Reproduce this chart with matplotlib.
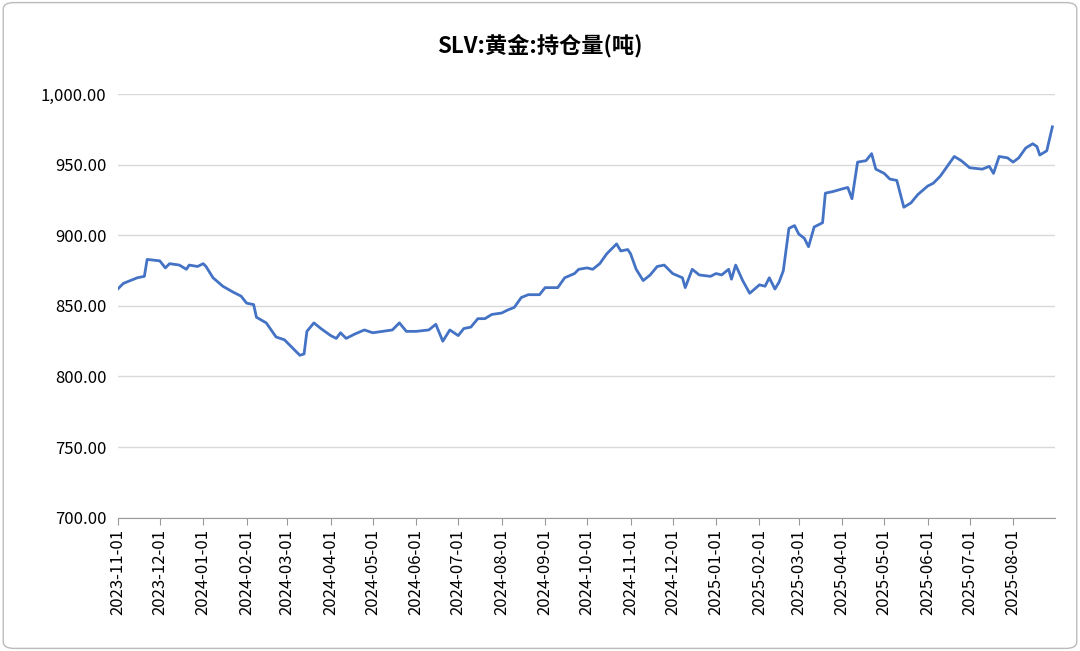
import matplotlib
matplotlib.use("Agg")
import matplotlib.pyplot as plt
import matplotlib.dates as mdates
import matplotlib.ticker as mticker
from matplotlib.patches import FancyBboxPatch
import pandas as pd

plt.rcParams['font.family'] = ['Noto Sans CJK SC', 'DejaVu Sans']

dates = ["2023-11-01","2023-11-05","2023-11-10","2023-11-15","2023-11-20","2023-11-22","2023-12-01","2023-12-05","2023-12-08","2023-12-15","2023-12-20","2023-12-22","2023-12-28",
"2024-01-01","2024-01-03","2024-01-08","2024-01-15","2024-01-22","2024-01-28","2024-02-01","2024-02-06","2024-02-08","2024-02-15","2024-02-22","2024-02-28",
"2024-03-03","2024-03-07","2024-03-10","2024-03-13","2024-03-15","2024-03-20","2024-03-25","2024-04-01","2024-04-05","2024-04-08","2024-04-12","2024-04-18","2024-04-25",
"2024-05-01","2024-05-08","2024-05-15","2024-05-20","2024-05-25","2024-06-01","2024-06-10","2024-06-15","2024-06-20","2024-06-25","2024-07-01","2024-07-05","2024-07-10",
"2024-07-15","2024-07-20","2024-07-25","2024-08-01","2024-08-05","2024-08-10","2024-08-15","2024-08-20","2024-08-28","2024-09-01","2024-09-10","2024-09-15","2024-09-22",
"2024-09-25","2024-10-01","2024-10-05","2024-10-10","2024-10-15","2024-10-22","2024-10-25","2024-10-30","2024-11-01","2024-11-05","2024-11-10","2024-11-15","2024-11-20",
"2024-11-25","2024-12-01","2024-12-08","2024-12-10","2024-12-15","2024-12-20","2024-12-28","2025-01-01","2025-01-05","2025-01-10","2025-01-12","2025-01-15","2025-01-20",
"2025-01-25","2025-02-01","2025-02-05","2025-02-08","2025-02-12","2025-02-15","2025-02-18","2025-02-22","2025-02-26","2025-03-01","2025-03-05","2025-03-08","2025-03-12",
"2025-03-18","2025-03-20","2025-03-25","2025-04-01","2025-04-05","2025-04-08","2025-04-12","2025-04-18","2025-04-22","2025-04-25","2025-05-01","2025-05-05","2025-05-10",
"2025-05-15","2025-05-20","2025-05-25","2025-06-01","2025-06-05","2025-06-10","2025-06-15","2025-06-20","2025-06-25","2025-07-01","2025-07-10","2025-07-15","2025-07-18",
"2025-07-22","2025-07-28","2025-08-01","2025-08-05","2025-08-10","2025-08-15","2025-08-18","2025-08-20","2025-08-25","2025-08-29"]
values = [862,866,868,870,871,883,882,877,880,879,876,879,878,
880,878,870,864,860,857,852,851,842,838,828,826,
822,818,815,816,832,838,834,829,827,831,827,830,833,
831,832,833,838,832,832,833,837,825,833,829,834,835,
841,841,844,845,847,849,856,858,858,863,863,870,873,
876,877,876,880,887,894,889,890,887,876,868,872,878,
879,873,870,863,876,872,871,873,872,876,869,879,868,
859,865,864,870,862,867,875,905,907,901,898,892,906,
909,930,931,933,934,926,952,953,958,947,944,940,939,
920,923,929,935,937,942,949,956,953,948,947,949,944,
956,955,952,955,962,965,963,957,960,977]
title = "SLV:黄金:持仓量(吨)"

fig = plt.figure(figsize=(10.8, 6.51), dpi=100)
fig.patches.append(FancyBboxPatch((0.003, 0.004), 0.994, 0.992, boxstyle="round,pad=0,rounding_size=0.01",
                                  transform=fig.transFigure, fill=False, edgecolor="#bbbbbb", lw=1))
ax = fig.add_axes([0.109, 0.205, 0.868, 0.65])
x = pd.to_datetime(dates)
ax.plot(x, values, color="#4472C4", lw=2)
ax.set_ylim(700, 1000)
ax.set_yticks(range(700, 1001, 50))
ax.yaxis.set_major_formatter(mticker.FuncFormatter(lambda v, p: f"{v:,.2f}"))
ax.set_xlim(pd.Timestamp("2023-11-01"), pd.Timestamp("2025-08-31"))
ax.xaxis.set_major_locator(mdates.MonthLocator())
ax.xaxis.set_major_formatter(mdates.DateFormatter("%Y-%m-%d"))
plt.setp(ax.get_xticklabels(), rotation=90)
ax.tick_params(axis='both', labelsize=12, colors="black")
ax.tick_params(axis='y', length=0, pad=8)
ax.tick_params(axis='x', length=5, color="#999999")
ax.grid(axis='y', color="#d9d9d9", lw=1)
for s in ['left', 'right', 'top']:
    ax.spines[s].set_visible(False)
ax.spines['bottom'].set_color("#999999")
ax.set_axisbelow(True)
fig.text(0.5, 0.93, title, ha='center', va='center', fontsize=16, fontweight='bold')
fig.savefig("out.png")
